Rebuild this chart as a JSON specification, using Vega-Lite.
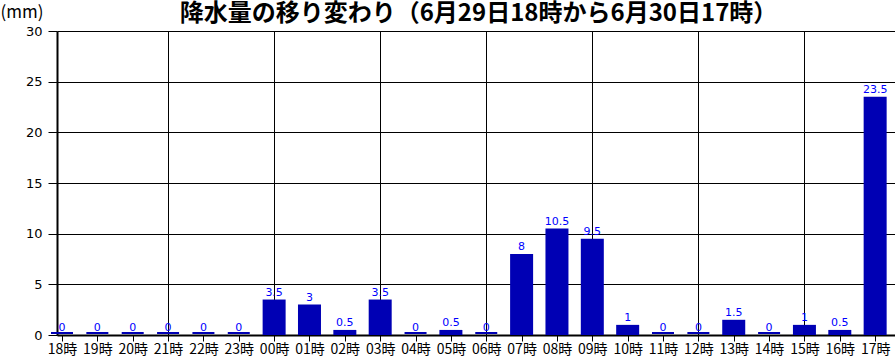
{
  "$schema": "https://vega.github.io/schema/vega-lite/v6.json",
  "width": 838,
  "height": 304,
  "autosize": {"type": "none"},
  "padding": {"left": 57, "top": 31, "right": 0, "bottom": 24},
  "background": "white",
  "config": {
    "view": {"stroke": null},
    "font": "Noto Sans CJK JP",
    "axisTop": {"labels": false, "ticks": false, "domain": false, "grid": false}
  },
  "resolve": {"axis": {"x": "independent"}},
  "data": {
    "values": [
      {"i": 0, "mm": 0}, {"i": 1, "mm": 0}, {"i": 2, "mm": 0}, {"i": 3, "mm": 0},
      {"i": 4, "mm": 0}, {"i": 5, "mm": 0}, {"i": 6, "mm": 3.5}, {"i": 7, "mm": 3},
      {"i": 8, "mm": 0.5}, {"i": 9, "mm": 3.5}, {"i": 10, "mm": 0}, {"i": 11, "mm": 0.5},
      {"i": 12, "mm": 0}, {"i": 13, "mm": 8}, {"i": 14, "mm": 10.5}, {"i": 15, "mm": 9.5},
      {"i": 16, "mm": 1}, {"i": 17, "mm": 0}, {"i": 18, "mm": 0}, {"i": 19, "mm": 1.5},
      {"i": 20, "mm": 0}, {"i": 21, "mm": 1}, {"i": 22, "mm": 0.5}, {"i": 23, "mm": 23.5}
    ]
  },
  "encoding": {
    "y": {
      "field": "mm",
      "type": "quantitative",
      "scale": {"domain": [0, 30], "nice": false},
      "axis": {
        "title": "(mm)",
        "titleAngle": 0,
        "titleAlign": "left",
        "titleBaseline": "top",
        "titleX": -57,
        "titleY": -27,
        "titleFont": "Noto Sans CJK JP",
        "titleFontSize": 17,
        "titleFontWeight": "normal",
        "titleColor": "#000000",
        "values": [0, 5, 10, 15, 20, 25, 30],
        "labelFont": "DejaVu Sans",
        "labelFontSize": 13,
        "labelColor": "#000000",
        "labelPadding": 6,
        "tickSize": 9,
        "tickColor": "#000000",
        "domainColor": "#000000",
        "domainWidth": 2,
        "grid": true,
        "gridColor": "#000000",
        "gridWidth": 1,
        "gridOpacity": 1
      }
    }
  },
  "layer": [
    {
      "mark": {"type": "bar", "size": 23, "color": "#0000b4"},
      "encoding": {
        "x": {
          "field": "i",
          "type": "quantitative",
          "scale": {"domain": [0, 23.42], "nice": false, "zero": false},
          "axis": {
            "orient": "bottom",
            "title": null,
            "values": [0,1,2,3,4,5,6,7,8,9,10,11,12,13,14,15,16,17,18,19,20,21,22,23],
            "labelExpr": "(((datum.value + 18) % 24) < 10 ? '0' : '') + ((datum.value + 18) % 24) + '時'",
            "labelFont": "Noto Sans CJK JP",
            "labelFontSize": 14,
            "labelColor": "#000000",
            "labelPadding": 1,
            "labelFlush": false,
            "labelOverlap": false,
            "tickSize": 6,
            "tickColor": "#000000",
            "tickWidth": 1,
            "domainColor": "#000000",
            "domainWidth": 2,
            "grid": true,
            "gridColor": "#000000",
            "gridWidth": 1,
            "gridOpacity": {"condition": {"test": "datum.value % 3 == 0 && datum.value > 0", "value": 1}, "value": 0}
          }
        }
      }
    },
    {
      "transform": [{"filter": "datum.mm == 0"}],
      "mark": {"type": "tick", "orient": "horizontal", "size": 22, "thickness": 2, "color": "#0000b4", "opacity": 1, "yOffset": -2},
      "encoding": {"x": {"field": "i", "type": "quantitative", "axis": null}}
    },
    {
      "mark": {"type": "text", "baseline": "bottom", "dy": -2, "color": "#0000ff", "font": "DejaVu Sans", "fontSize": 11},
      "encoding": {
        "x": {
          "field": "i",
          "type": "quantitative",
          "axis": {
            "orient": "top",
            "title": "降水量の移り変わり（6月29日18時から6月30日17時）",
            "titleFont": "Noto Sans CJK JP",
            "titleFontSize": 24,
            "titleFontWeight": "bold",
            "titleColor": "#000000",
            "titleAnchor": "middle",
            "titleBaseline": "bottom",
            "titleX": 421,
            "titleY": -6,
            "values": [],
            "labels": false,
            "ticks": false,
            "domain": false,
            "grid": false
          }
        },
        "text": {"field": "mm", "type": "quantitative"}
      }
    }
  ]
}
